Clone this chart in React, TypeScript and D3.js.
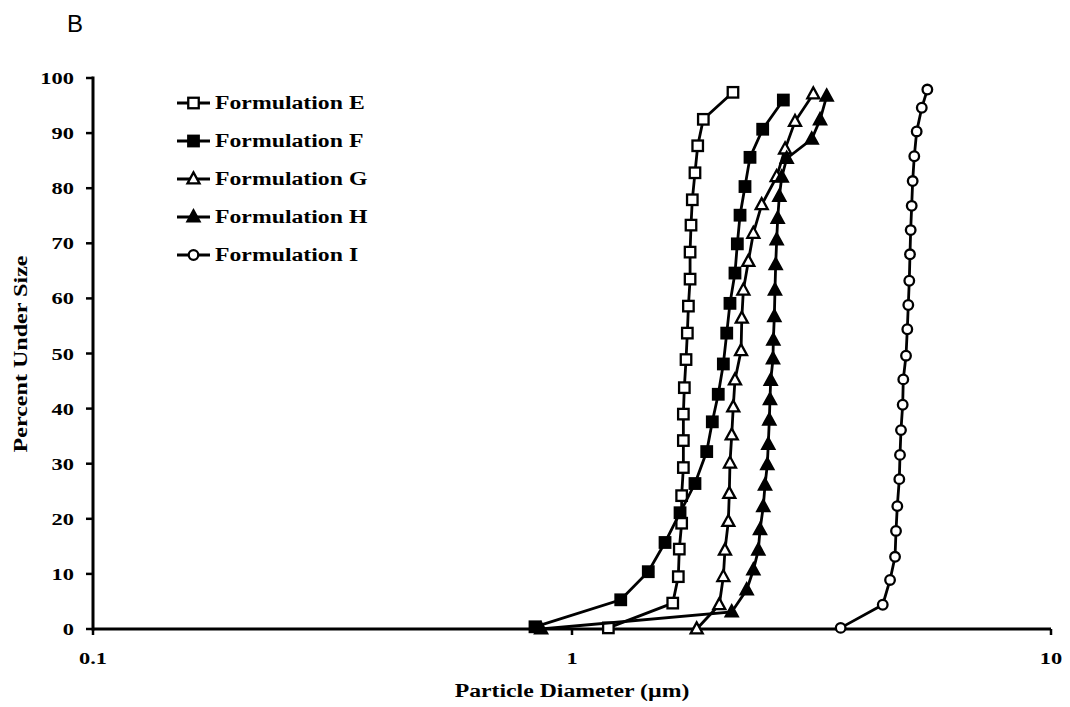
import React from "react";
import * as d3 from "d3";

const seriesNames = ["Formulation E", "Formulation F", "Formulation G", "Formulation H", "Formulation I"];
const markerKinds = ["square-open", "square-filled", "triangle-open", "triangle-filled", "circle-open"];

const eSize = [1.191, 1.623, 1.667, 1.675, 1.694, 1.694, 1.708, 1.708, 1.708, 1.716, 1.73, 1.741, 1.75, 1.764, 1.764, 1.772, 1.783, 1.806, 1.83, 1.88, 2.168];
const ePct = [0.2, 4.7, 9.5, 14.5, 19.2, 24.2, 29.3, 34.2, 39.0, 43.8, 48.9, 53.7, 58.6, 63.5, 68.4, 73.3, 77.9, 82.8, 87.7, 92.5, 97.4];

const fSize = [0.837, 1.264, 1.443, 1.564, 1.681, 1.806, 1.911, 1.963, 2.02, 2.07, 2.104, 2.137, 2.189, 2.214, 2.243, 2.297, 2.353, 2.501, 2.762];
const fPct = [0.4, 5.3, 10.4, 15.7, 21.1, 26.4, 32.2, 37.6, 42.6, 48.1, 53.7, 59.1, 64.6, 69.9, 75.1, 80.3, 85.6, 90.7, 96.0];

const gSize = [1.821, 2.03, 2.07, 2.086, 2.12, 2.13, 2.137, 2.155, 2.171, 2.189, 2.254, 2.262, 2.279, 2.334, 2.391, 2.489, 2.675, 2.785, 2.921, 3.19];
const gPct = [0, 4.4, 9.5, 14.3, 19.5, 24.6, 30.1, 35.2, 40.3, 45.2, 50.5, 56.4, 61.5, 66.7, 71.8, 77.0, 82.1, 87.1, 92.1, 97.1];

const hSize = [0.862, 2.155, 2.316, 2.391, 2.449, 2.469, 2.508, 2.529, 2.557, 2.569, 2.582, 2.59, 2.599, 2.628, 2.632, 2.645, 2.653, 2.662, 2.675, 2.688, 2.709, 2.741, 2.807, 3.166, 3.295, 3.402];
const hPct = [0, 3.1, 7.1, 10.7, 14.3, 18.0, 22.2, 26.1, 29.8, 33.5, 37.9, 41.6, 45.1, 49.0, 52.4, 56.7, 61.5, 66.1, 70.6, 74.5, 78.5, 82.0, 85.4, 88.9, 92.4, 96.7];

const iSize = [3.638, 4.454, 4.613, 4.725, 4.747, 4.777, 4.823, 4.839, 4.862, 4.902, 4.916, 4.981, 5.012, 5.036, 5.06, 5.077, 5.094, 5.119, 5.143, 5.183, 5.243, 5.373, 5.519];
const iPct = [0.2, 4.4, 8.9, 13.1, 17.8, 22.3, 27.2, 31.6, 36.1, 40.7, 45.3, 49.6, 54.4, 58.8, 63.2, 68.0, 72.4, 76.8, 81.3, 85.8, 90.3, 94.6, 97.9];

const allSizes = [eSize, fSize, gSize, hSize, iSize];
const allPcts = [ePct, fPct, gPct, hPct, iPct];

const yTicks = [0, 10, 20, 30, 40, 50, 60, 70, 80, 90, 100];
const xTicks = [0.1, 1, 10];
const xTickLabels = ["0.1", "1", "10"];

const SERIF = "'Liberation Serif', 'Times New Roman', serif";
const SX = 1.32;

function Marker({ kind, x, y }: { kind: string; x: number; y: number }) {
  const sw = 2.3;
  if (kind.startsWith("square")) {
    const s = 10.5;
    return (
      <rect x={x - s / 2} y={y - s / 2} width={s} height={s}
        fill={kind === "square-filled" ? "#000" : "#fff"} stroke="#000" strokeWidth={sw} />
    );
  }
  if (kind.startsWith("triangle")) {
    const h = 11, w = 12;
    const pts = `${x},${y - h * 0.6} ${x - w / 2},${y + h * 0.4} ${x + w / 2},${y + h * 0.4}`;
    return <polygon points={pts} fill={kind === "triangle-filled" ? "#000" : "#fff"} stroke="#000" strokeWidth={sw} strokeLinejoin="miter" />;
  }
  return <circle cx={x} cy={y} r={4.8} fill="#fff" stroke="#000" strokeWidth={sw} />;
}

export default function App() {
  const x = d3.scaleLog().domain([0.1, 10]).range([93, 1051]);
  const y = d3.scaleLinear().domain([0, 100]).range([629, 78]);
  const line = d3.line<[number, number]>().x((d) => x(d[0])).y((d) => y(d[1]));

  const legendY = d3.scaleLinear().domain([0, 4]).range([103, 255]);

  return (
    <svg width={1070} height={707} style={{ position: "absolute", left: 0, top: 0, background: "#fff" }}>
      <rect width={1070} height={707} fill="#fff" />
      <text x={67} y={32} fontFamily="'Liberation Sans', Arial, sans-serif" fontSize={24}>B</text>

      {/* axes */}
      <line x1={x(0.1)} x2={x(10)} y1={y(0)} y2={y(0)} stroke="#000" strokeWidth={3} />
      <line x1={x(0.1)} x2={x(0.1)} y1={y(0) + 1.5} y2={y(100) - 1.5} stroke="#000" strokeWidth={3} />
      {yTicks.map((t) => (
        <g key={"yt" + t}>
          <line x1={x(0.1) - 7} x2={x(0.1)} y1={y(t)} y2={y(t)} stroke="#000" strokeWidth={2.5} />
          <text transform={`translate(74,${y(t) + 6}) scale(${SX},1)`} textAnchor="end"
            fontFamily={SERIF} fontWeight="bold" fontSize={17}>{t}</text>
        </g>
      ))}
      {xTicks.map((t, i) => (
        <g key={"xt" + t}>
          <line x1={x(t)} x2={x(t)} y1={y(0)} y2={y(0) + 6} stroke="#000" strokeWidth={2.5} />
          <text transform={`translate(${x(t)},${664}) scale(${SX},1)`} textAnchor="middle"
            fontFamily={SERIF} fontWeight="bold" fontSize={17}>{xTickLabels[i]}</text>
        </g>
      ))}

      <text transform={`translate(572,697) scale(${SX},1)`} textAnchor="middle"
        fontFamily={SERIF} fontWeight="bold" fontSize={18}>Particle Diameter (µm)</text>
      <text transform={`translate(27,354) rotate(-90)`} textAnchor="middle"
        fontFamily={SERIF} fontWeight="bold" fontSize={18} textLength={197} lengthAdjust="spacingAndGlyphs">Percent Under Size</text>

      {/* series */}
      {allSizes.map((sizes, si) => {
        const pts: [number, number][] = sizes.map((s, k) => [s, allPcts[si][k]]);
        return (
          <g key={"s" + si}>
            <path d={line(pts) || ""} fill="none" stroke="#000" strokeWidth={2.8} />
            {pts.map((p, k) => (
              <Marker key={k} kind={markerKinds[si]} x={x(p[0])} y={y(p[1])} />
            ))}
          </g>
        );
      })}

      {/* legend */}
      {seriesNames.map((name, i) => {
        const ly = legendY(i);
        return (
          <g key={"lg" + i}>
            <line x1={177} x2={210} y1={ly} y2={ly} stroke="#000" strokeWidth={2.8} />
            <Marker kind={markerKinds[i]} x={193.5} y={ly} />
            <text transform={`translate(215,${ly + 6}) scale(${SX},1)`}
              fontFamily={SERIF} fontWeight="bold" fontSize={18}>{name}</text>
          </g>
        );
      })}
    </svg>
  );
}
